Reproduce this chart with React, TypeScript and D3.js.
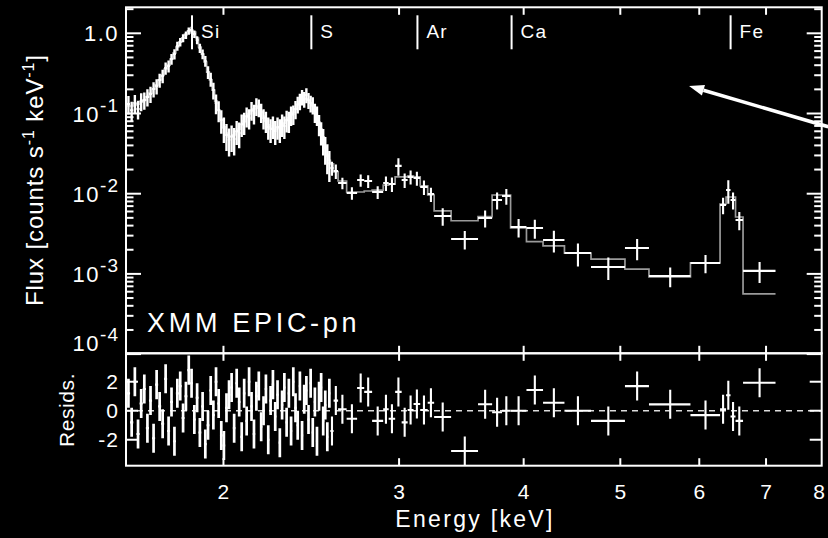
import { useEffect, useRef } from "react";
import * as d3 from "d3";

const W = 828;
const H = 538;

// narrow bins below 2.56 keV (centres, keV), 12 eV wide
const denseEnergy = [
  1.606, 1.618, 1.630, 1.642, 1.654, 1.666, 1.678, 1.690, 1.702, 1.714,
  1.726, 1.738, 1.750, 1.762, 1.774, 1.786, 1.798, 1.810, 1.822, 1.834,
  1.846, 1.858, 1.870, 1.882, 1.894, 1.906, 1.918, 1.930, 1.942, 1.954,
  1.966, 1.978, 1.990, 2.002, 2.014, 2.026, 2.038, 2.050, 2.062, 2.074,
  2.086, 2.098, 2.110, 2.122, 2.134, 2.146, 2.158, 2.170, 2.182, 2.194,
  2.206, 2.218, 2.230, 2.242, 2.254, 2.266, 2.278, 2.290, 2.302, 2.314,
  2.326, 2.338, 2.350, 2.362, 2.374, 2.386, 2.398, 2.410, 2.422, 2.434,
  2.446, 2.458, 2.470, 2.482, 2.494, 2.506, 2.518, 2.530, 2.542, 2.554,
];
const denseHalfWidth = 0.006;
const denseFlux = [
  0.131, 0.110, 0.135, 0.114, 0.143, 0.147, 0.161, 0.175, 0.202, 0.220,
  0.262, 0.294, 0.369, 0.391, 0.478, 0.552, 0.694, 0.779, 0.874, 0.952,
  1.068, 1.099, 0.980, 0.825, 0.656, 0.552, 0.452, 0.329, 0.269, 0.196,
  0.135, 0.110, 0.083, 0.066, 0.054, 0.047, 0.052, 0.048, 0.0605, 0.057,
  0.074, 0.078, 0.093, 0.088, 0.110, 0.101, 0.124, 0.120, 0.104, 0.088,
  0.081, 0.068, 0.064, 0.070, 0.0605, 0.068, 0.064, 0.074, 0.070, 0.083,
  0.081, 0.096, 0.099, 0.114, 0.131, 0.143, 0.161, 0.152, 0.170, 0.147,
  0.135, 0.128, 0.104, 0.096, 0.074, 0.059, 0.047, 0.037, 0.0295, 0.024,
];
const denseFluxErr = [
  0.034, 0.030, 0.035, 0.030, 0.036, 0.036, 0.039, 0.040, 0.044, 0.047,
  0.052, 0.056, 0.064, 0.066, 0.074, 0.080, 0.090, 0.095, 0.100, 0.105,
  0.110, 0.112, 0.106, 0.097, 0.086, 0.078, 0.070, 0.060, 0.054, 0.046,
  0.037, 0.032, 0.027, 0.023, 0.020, 0.018, 0.019, 0.018, 0.020, 0.020,
  0.023, 0.024, 0.026, 0.025, 0.029, 0.028, 0.031, 0.030, 0.028, 0.025,
  0.024, 0.021, 0.021, 0.022, 0.020, 0.021, 0.021, 0.023, 0.022, 0.025,
  0.024, 0.026, 0.027, 0.029, 0.031, 0.033, 0.035, 0.034, 0.036, 0.033,
  0.032, 0.031, 0.028, 0.026, 0.022, 0.019, 0.017, 0.014, 0.012, 0.010,
];
const denseModel = [
  0.124, 0.124, 0.128, 0.131, 0.139, 0.147, 0.161, 0.180, 0.202, 0.227,
  0.262, 0.302, 0.359, 0.402, 0.478, 0.568, 0.675, 0.779, 0.874, 0.980,
  1.068, 1.099, 1.038, 0.874, 0.675, 0.552, 0.439, 0.329, 0.262, 0.196,
  0.143, 0.110, 0.085, 0.068, 0.057, 0.051, 0.051, 0.054, 0.059, 0.064,
  0.072, 0.081, 0.090, 0.099, 0.107, 0.114, 0.117, 0.117, 0.107, 0.093,
  0.081, 0.072, 0.066, 0.064, 0.064, 0.066, 0.068, 0.072, 0.076, 0.083,
  0.088, 0.096, 0.104, 0.114, 0.128, 0.139, 0.147, 0.152, 0.152, 0.147,
  0.135, 0.124, 0.107, 0.093, 0.078, 0.064, 0.051, 0.039, 0.031, 0.026,
];
const denseResid = [
  1.2, -0.8, 2.0, -1.6, 0.5, 1.5, -1.2, 0.7, -1.9, 1.8,
  0.3, -0.9, 2.2, -1.4, 0.6, -2.1, 1.2, 1.7, -0.5, 1.0,
  2.8, 1.9, -0.6, 0.9, -1.5, 0.3, -2.3, -1.0, 1.4, -0.3,
  2.0, 0.5, -1.7, -2.4, 0.2, 1.1, 1.6, -1.2, 1.9, 0.6,
  -1.8, 1.2, -0.7, 2.0, 0.3, -1.6, 1.0, 1.7, -1.1, 0.0,
  1.5, -2.0, 0.7, 1.8, -0.4, 1.1, -2.2, 0.4, 1.6, -0.8,
  1.2, -1.4, 2.0, 0.2, -1.0, 1.7, -1.7, 0.8, 1.4, -0.6,
  1.9, -1.5, 0.6, -2.1, 1.0, 1.6, -0.7, 0.4, -1.8, 1.2,
];

// grouped bins above 2.56 keV (edges, keV)
const sparseEdges = [
  2.560, 2.579, 2.606, 2.658, 2.723, 2.768, 2.819, 2.892, 2.929, 2.973,
  3.018, 3.060, 3.102, 3.150, 3.205, 3.253, 3.383, 3.600, 3.719, 3.805,
  3.881, 4.026, 4.183, 4.395, 4.673, 5.054, 5.342, 5.879, 6.295, 6.383,
  6.449, 6.524, 6.638, 7.155,
];
const sparseFlux = [
  0.0209, 0.0192, 0.0136, 0.0102, 0.0148, 0.0144, 0.0105, 0.0136, 0.0132, 0.0222,
  0.0148, 0.0162, 0.0157, 0.0121, 0.0099, 0.00527, 0.00272, 0.00498, 0.00834, 0.00936,
  0.00384, 0.00374, 0.00265, 0.00182, 0.00122, 0.00210, 0.000941, 0.00137, 0.00723, 0.0111,
  0.00834, 0.00470, 0.00109,
];
const sparseFluxErr = [
  0.0042, 0.0040, 0.0022, 0.0018, 0.0026, 0.0026, 0.0019, 0.0028, 0.0027, 0.0055,
  0.0030, 0.0032, 0.0031, 0.0025, 0.0020, 0.0013, 0.0007, 0.0012, 0.0020, 0.0021,
  0.0010, 0.0010, 0.0008, 0.00058, 0.00038, 0.00062, 0.00026, 0.00035, 0.0017, 0.0036,
  0.0020, 0.0012, 0.00032,
];
const sparseModel = [
  0.0235, 0.0187, 0.0144, 0.0105, 0.0105, 0.0108, 0.0111, 0.0128, 0.0132, 0.0162,
  0.0162, 0.0166, 0.0162, 0.0125, 0.00963, 0.00609, 0.00460, 0.00517, 0.00963, 0.00963,
  0.00374, 0.00252, 0.00223, 0.00182, 0.00153, 0.00115, 0.000915, 0.00137, 0.00744, 0.00910,
  0.00910, 0.00512, 0.000562,
];
const sparseResid = [
  -1.4, 0.7, 0.1, -0.55, 1.57, 1.3, -0.7, 0.1, -0.55, 1.3,
  -0.8, 0.05, 0.46, 0.05, 0.55, -0.43, -2.78, 0.45, -0.1, 0.0,
  0.0, 1.43, 0.55, 0.0, -0.7, 1.7, 0.44, -0.3, 0.1, 1.07,
  -0.4, -0.7, 1.93,
];

const lineEnergies = [1.86, 2.45, 3.13, 3.89, 6.45];
const lineNames = ["Si", "S", "Ar", "Ca", "Fe"];

const energyTicks = [2, 3, 4, 5, 6, 7, 8];
const fluxDecades = [1, 0.1, 0.01, 0.001, 0.0001];
const fluxDecadeBase = ["1.0", "10", "10", "10", "10"];
const fluxDecadeExp = ["", "-1", "-2", "-3", "-4"];
const residTicks = [-2, 0, 2];

// annotation arrow, in data units (energy keV, flux)
const arrowFrom = [8.08, 0.0684];
const arrowTo = [5.86, 0.22];

const FONT = "'Liberation Sans', Arial, Helvetica, sans-serif";

export default function App() {
  const svgRef = useRef<SVGSVGElement>(null);

  useEffect(() => {
    document.body.style.margin = "0";
    document.body.style.background = "#000";
    const svg = d3.select(svgRef.current);
    svg.selectAll("*").remove();

    const left = 126, right = 821.7, top = 7.3, mid = 353.3, bottom = 465.7;

    const x = d3.scaleLog().domain([1.597, 7.96]).range([left, right]);
    const yF = d3.scaleLog().domain([1.023e-4, 2.11]).range([mid, top]);
    const yR = d3.scaleLinear().domain([-3.79, 3.96]).range([bottom, mid]);

    const bins = [
      ...denseEnergy.map((e, i) => ({
        lo: e - denseHalfWidth, hi: e + denseHalfWidth, e, dense: true,
        f: denseFlux[i], fe: denseFluxErr[i], m: denseModel[i], r: denseResid[i],
      })),
      ...sparseFlux.map((f, i) => ({
        lo: sparseEdges[i], hi: sparseEdges[i + 1], e: (sparseEdges[i] + sparseEdges[i + 1]) / 2, dense: false,
        f, fe: sparseFluxErr[i], m: sparseModel[i], r: sparseResid[i],
      })),
    ];

    const defs = svg.append("defs");
    defs.append("clipPath").attr("id", "clipTop")
      .append("rect").attr("x", left).attr("y", top).attr("width", right - left).attr("height", mid - top);
    defs.append("clipPath").attr("id", "clipRes")
      .append("rect").attr("x", left).attr("y", mid - 2).attr("width", right - left).attr("height", bottom - mid + 2);

    // ---- upper panel: model + data
    const up = svg.append("g").attr("clip-path", "url(#clipTop)");
    const stepPts: [number, number][] = [];
    bins.forEach(b => { stepPts.push([b.lo, b.m], [b.hi, b.m]); });
    up.append("path")
      .attr("d", d3.line<[number, number]>().x(d => x(d[0])).y(d => yF(d[1]))(stepPts))
      .attr("fill", "none").attr("stroke", "#9a9a9a").attr("stroke-width", 1.7);

    const cross = up.selectAll("g.pt").data(bins).join("g").attr("class", "pt")
      .attr("stroke", "#fff").attr("stroke-width", 2.1);
    cross.append("line")
      .attr("x1", d => x(d.lo)).attr("x2", d => x(d.hi))
      .attr("y1", d => yF(d.f)).attr("y2", d => yF(d.f));
    cross.append("line")
      .attr("stroke-width", d => (d.dense ? 2.4 : 2.1))
      .attr("x1", d => x(d.e)).attr("x2", d => x(d.e))
      .attr("y1", d => yF(Math.max(d.f - d.fe, 1e-6))).attr("y2", d => yF(d.f + d.fe));

    // ---- residual panel
    const rp = svg.append("g").attr("clip-path", "url(#clipRes)");
    rp.append("line")
      .attr("x1", left).attr("x2", right).attr("y1", yR(0)).attr("y2", yR(0))
      .attr("stroke", "#ddd").attr("stroke-width", 1.7).attr("stroke-dasharray", "6,5");
    const rc = rp.selectAll("g.rs").data(bins).join("g").attr("class", "rs")
      .attr("stroke", "#fff").attr("stroke-width", 2.1);
    rc.append("line")
      .attr("x1", d => x(d.lo)).attr("x2", d => x(d.hi))
      .attr("y1", d => yR(d.r)).attr("y2", d => yR(d.r));
    rc.append("line")
      .attr("stroke-width", d => (d.dense ? 2.7 : 2.1))
      .attr("x1", d => x(d.e)).attr("x2", d => x(d.e))
      .attr("y1", d => yR(d.r - 1)).attr("y2", d => yR(d.r + 1));

    // ---- frames
    const frame = svg.append("g").attr("stroke", "#fff").attr("stroke-width", 2).attr("fill", "none");
    frame.append("rect").attr("x", left).attr("y", top).attr("width", right - left).attr("height", mid - top);
    frame.append("rect").attr("x", left).attr("y", mid).attr("width", right - left).attr("height", bottom - mid);

    // energy ticks on all horizontal borders
    const xt = energyTicks.filter(v => v < 7.9);
    [[top, 1], [mid, -1], [mid, 1], [bottom, -1]].forEach(([yy, dir]) => {
      frame.selectAll(null).data(xt).join("line")
        .attr("x1", d => x(d)).attr("x2", d => x(d))
        .attr("y1", yy).attr("y2", yy + dir * 7.5);
    });

    // log flux ticks, major + minor, both sides
    const minor: number[] = [];
    fluxDecades.forEach(d => {
      for (let k = 2; k <= 9; k++) {
        const v = k * d;
        if (v > 1.023e-4 && v < 2.11) minor.push(v);
      }
    });
    [[left, 1], [right, -1]].forEach(([xx, dir]) => {
      frame.selectAll(null).data(fluxDecades).join("line")
        .attr("x1", xx).attr("x2", xx + dir * 15)
        .attr("y1", d => yF(d)).attr("y2", d => yF(d));
      frame.selectAll(null).data(minor).join("line")
        .attr("x1", xx).attr("x2", xx + dir * 7.5)
        .attr("y1", d => yF(d)).attr("y2", d => yF(d));
      frame.selectAll(null).data(residTicks).join("line")
        .attr("x1", xx).attr("x2", xx + dir * 12)
        .attr("y1", d => yR(d)).attr("y2", d => yR(d));
    });

    // ---- text
    const txt = svg.append("g").attr("fill", "#fff").attr("font-family", FONT);

    fluxDecades.forEach((v, i) => {
      const t = txt.append("text").attr("x", 119).attr("y", Math.min(yF(v) + 8, 351))
        .attr("text-anchor", "end").attr("font-size", 22).attr("letter-spacing", 1.5);
      t.append("tspan").text(fluxDecadeBase[i]);
      if (fluxDecadeExp[i]) t.append("tspan").attr("dy", -10).attr("font-size", 19).attr("letter-spacing", 1).text(fluxDecadeExp[i]);
    });

    txt.selectAll(null).data(residTicks).join("text")
      .attr("x", 119).attr("y", d => yR(d) + 7.5).attr("text-anchor", "end")
      .attr("font-size", 21).attr("letter-spacing", 1)
      .text(d => String(d));

    txt.selectAll(null).data(energyTicks).join("text")
      .attr("x", d => Math.min(x(d), 819)).attr("y", 499).attr("text-anchor", "middle")
      .attr("font-size", 21).text(d => String(d));

    txt.append("text").attr("x", 475).attr("y", 527).attr("text-anchor", "middle")
      .attr("font-size", 23).attr("letter-spacing", 2.3).text("Energy [keV]");

    txt.append("text").attr("transform", "translate(74,410) rotate(-90)")
      .attr("text-anchor", "middle").attr("font-size", 21).attr("letter-spacing", 0.6).text("Resids.");

    const fl = txt.append("text").attr("transform", "translate(43,180) rotate(-90)")
      .attr("text-anchor", "middle").attr("font-size", 24).attr("letter-spacing", 0.9);
    fl.append("tspan").text("Flux [counts s");
    fl.append("tspan").attr("dy", -9).attr("font-size", 16).text("-1");
    fl.append("tspan").attr("dy", 9).text(" keV");
    fl.append("tspan").attr("dy", -9).attr("font-size", 16).text("-1");
    fl.append("tspan").attr("dy", 9).text("]");

    txt.append("text").attr("x", 147).attr("y", 332)
      .attr("font-size", 27).attr("letter-spacing", 3.7).text("XMM EPIC-pn");

    // emission line markers
    const lm = svg.append("g");
    lm.selectAll("line").data(lineEnergies).join("line")
      .attr("x1", d => x(d)).attr("x2", d => x(d))
      .attr("y1", top + 8).attr("y2", top + 42)
      .attr("stroke", "#fff").attr("stroke-width", 2);
    lm.selectAll("text").data(lineEnergies).join("text")
      .attr("x", d => x(d) + 9).attr("y", 38)
      .attr("fill", "#fff").attr("font-family", FONT).attr("font-size", 19).attr("letter-spacing", 1.2)
      .text((_, i) => lineNames[i]);

    // arrow
    const ax1 = x(arrowFrom[0]), ay1 = yF(arrowFrom[1]);
    const ax2 = x(arrowTo[0]), ay2 = yF(arrowTo[1]);
    const ang = Math.atan2(ay2 - ay1, ax2 - ax1);
    const hl = 15, hw = 5.5;
    const bx = ax2 - hl * Math.cos(ang), by = ay2 - hl * Math.sin(ang);
    svg.append("line").attr("x1", ax1).attr("y1", ay1).attr("x2", bx).attr("y2", by)
      .attr("stroke", "#fff").attr("stroke-width", 3.5);
    svg.append("polygon")
      .attr("points", [
        [ax2, ay2],
        [bx + hw * Math.sin(ang), by - hw * Math.cos(ang)],
        [bx - hw * Math.sin(ang), by + hw * Math.cos(ang)],
      ].map(p => p.join(",")).join(" "))
      .attr("fill", "#fff");
  }, []);

  return (
    <svg
      ref={svgRef}
      width={W}
      height={H}
      style={{ position: "absolute", left: 0, top: 0, display: "block", background: "#000" }}
    />
  );
}
